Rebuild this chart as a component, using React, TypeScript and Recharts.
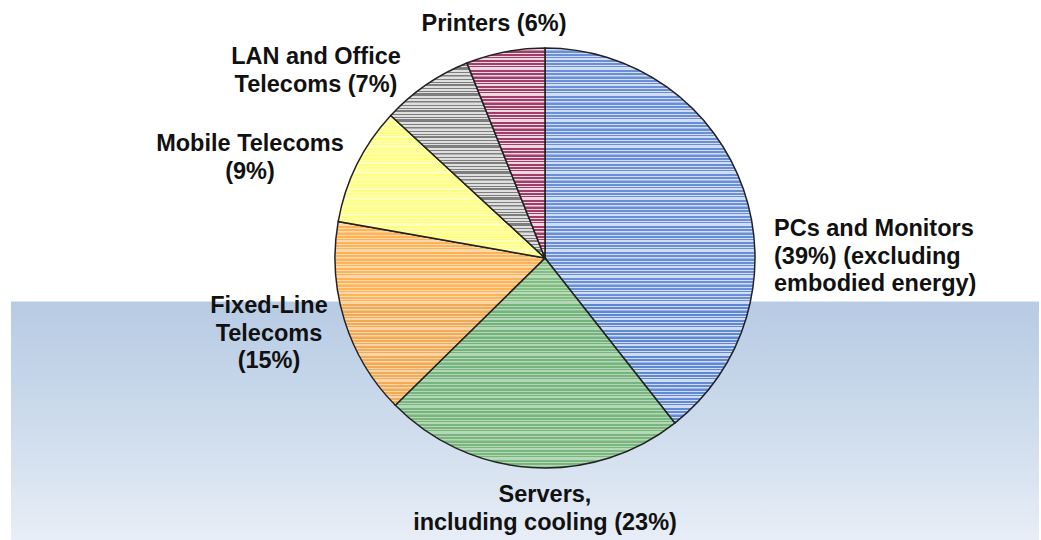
import { PieChart, Pie, Cell } from 'recharts';

const CATEGORIES = [
  'PCs and Monitors',
  'Servers',
  'Fixed-Line Telecoms',
  'Mobile Telecoms',
  'LAN and Office Telecoms',
  'Printers',
];
const SHARES = [39, 23, 15, 9, 7, 6];

const LABEL_LINES = [
  ['PCs and Monitors', '(39%) (excluding', 'embodied energy)'],
  ['Servers,', 'including cooling (23%)'],
  ['Fixed-Line', 'Telecoms', '(15%)'],
  ['Mobile Telecoms', '(9%)'],
  ['LAN and Office', 'Telecoms (7%)'],
  ['Printers (6%)'],
];

const data = CATEGORIES.map((name, i) => ({ name, value: SHARES[i] }));

// slice styling: base colour + stripe colour
const SLICE_STYLE = [
  { id: 'pcs', base: '#4f7bd0', baseOp: 0.85, line: '#ffffff', lineOp: 0.7 },
  { id: 'srv', base: '#62ad62', baseOp: 0.8, line: '#ffffff', lineOp: 0.45 },
  { id: 'fix', base: '#ffa030', baseOp: 0.8, line: '#ffffff', lineOp: 0.5 },
  { id: 'mob', base: '#ffff6a', baseOp: 0.85, line: '#ffffff', lineOp: 0.5 },
  { id: 'lan', base: '#dcdcdc', baseOp: 0.9, line: '#555555', lineOp: 0.7 },
  { id: 'prn', base: '#9a2d5c', baseOp: 0.92, line: '#ffffff', lineOp: 0.8 },
];

// label anchors (text placement only)
const LABEL_POS = [
  { x: 774, y: 236, anchor: 'start' },
  { x: 545, y: 502, anchor: 'middle' },
  { x: 269, y: 313, anchor: 'middle' },
  { x: 250, y: 151, anchor: 'middle' },
  { x: 316, y: 64, anchor: 'middle' },
  { x: 494, y: 31, anchor: 'middle' },
];

const FONT = '"Liberation Sans", Arial, Helvetica, sans-serif';

function renderLabel(props: any) {
  const i = props.index as number;
  const p = LABEL_POS[i];
  return (
    <text
      key={`lbl-${i}`}
      x={p.x}
      y={p.y}
      textAnchor={p.anchor as any}
      fontFamily={FONT}
      fontWeight="bold"
      fontSize={23.5}
      fill="#111"
    >
      {LABEL_LINES[i].map((line, j) => (
        <tspan key={j} x={p.x} dy={j === 0 ? 0 : 27.5}>
          {line}
        </tspan>
      ))}
    </text>
  );
}

function StripePattern({ id, base, baseOp, line, lineOp }: { id: string; base: string; baseOp: number; line: string; lineOp: number }) {
  // irregular horizontal stripes, repeated every 26px
  const stripes = [
    [1, 1], [4, 1], [6, 2], [10, 1], [13, 1], [15, 3], [20, 1], [23, 1.5],
  ];
  return (
    <pattern id={id} patternUnits="userSpaceOnUse" width={20} height={26}>
      <rect x={0} y={0} width={20} height={26} fill={base} fillOpacity={baseOp} />
      {stripes.map(([y, h], k) => (
        <rect key={k} x={0} y={y} width={20} height={h} fill={line} fillOpacity={lineOp} />
      ))}
    </pattern>
  );
}

export default function App() {
  return (
    <div style={{ position: 'absolute', left: 0, top: 0, width: 1041, height: 540, background: '#fff' }}>
      <div
        style={{
          position: 'absolute',
          left: 11,
          top: 301,
          width: 1028,
          height: 239,
          background: 'linear-gradient(to bottom, #b7cbe4 0%, #cddbec 50%, #e8eef7 100%)',
          borderTop: '1px solid #dfe7f2',
        }}
      />
      <div style={{ position: 'absolute', left: 0, top: 0 }}>
        <PieChart width={1041} height={540} margin={{ top: 0, right: 0, bottom: 0, left: 0 }}>
          <defs>
            {SLICE_STYLE.map((s) => (
              <StripePattern key={s.id} {...s} />
            ))}
          </defs>
          <Pie
            data={data}
            dataKey="value"
            nameKey="name"
            cx={545}
            cy={258}
            outerRadius={210}
            startAngle={90}
            endAngle={-270}
            stroke="#222"
            strokeWidth={1.5}
            label={renderLabel}
            labelLine={false}
            isAnimationActive={false}
          >
            {data.map((d, i) => (
              <Cell key={d.name} fill={`url(#${SLICE_STYLE[i].id})`} />
            ))}
          </Pie>
        </PieChart>
      </div>
    </div>
  );
}
